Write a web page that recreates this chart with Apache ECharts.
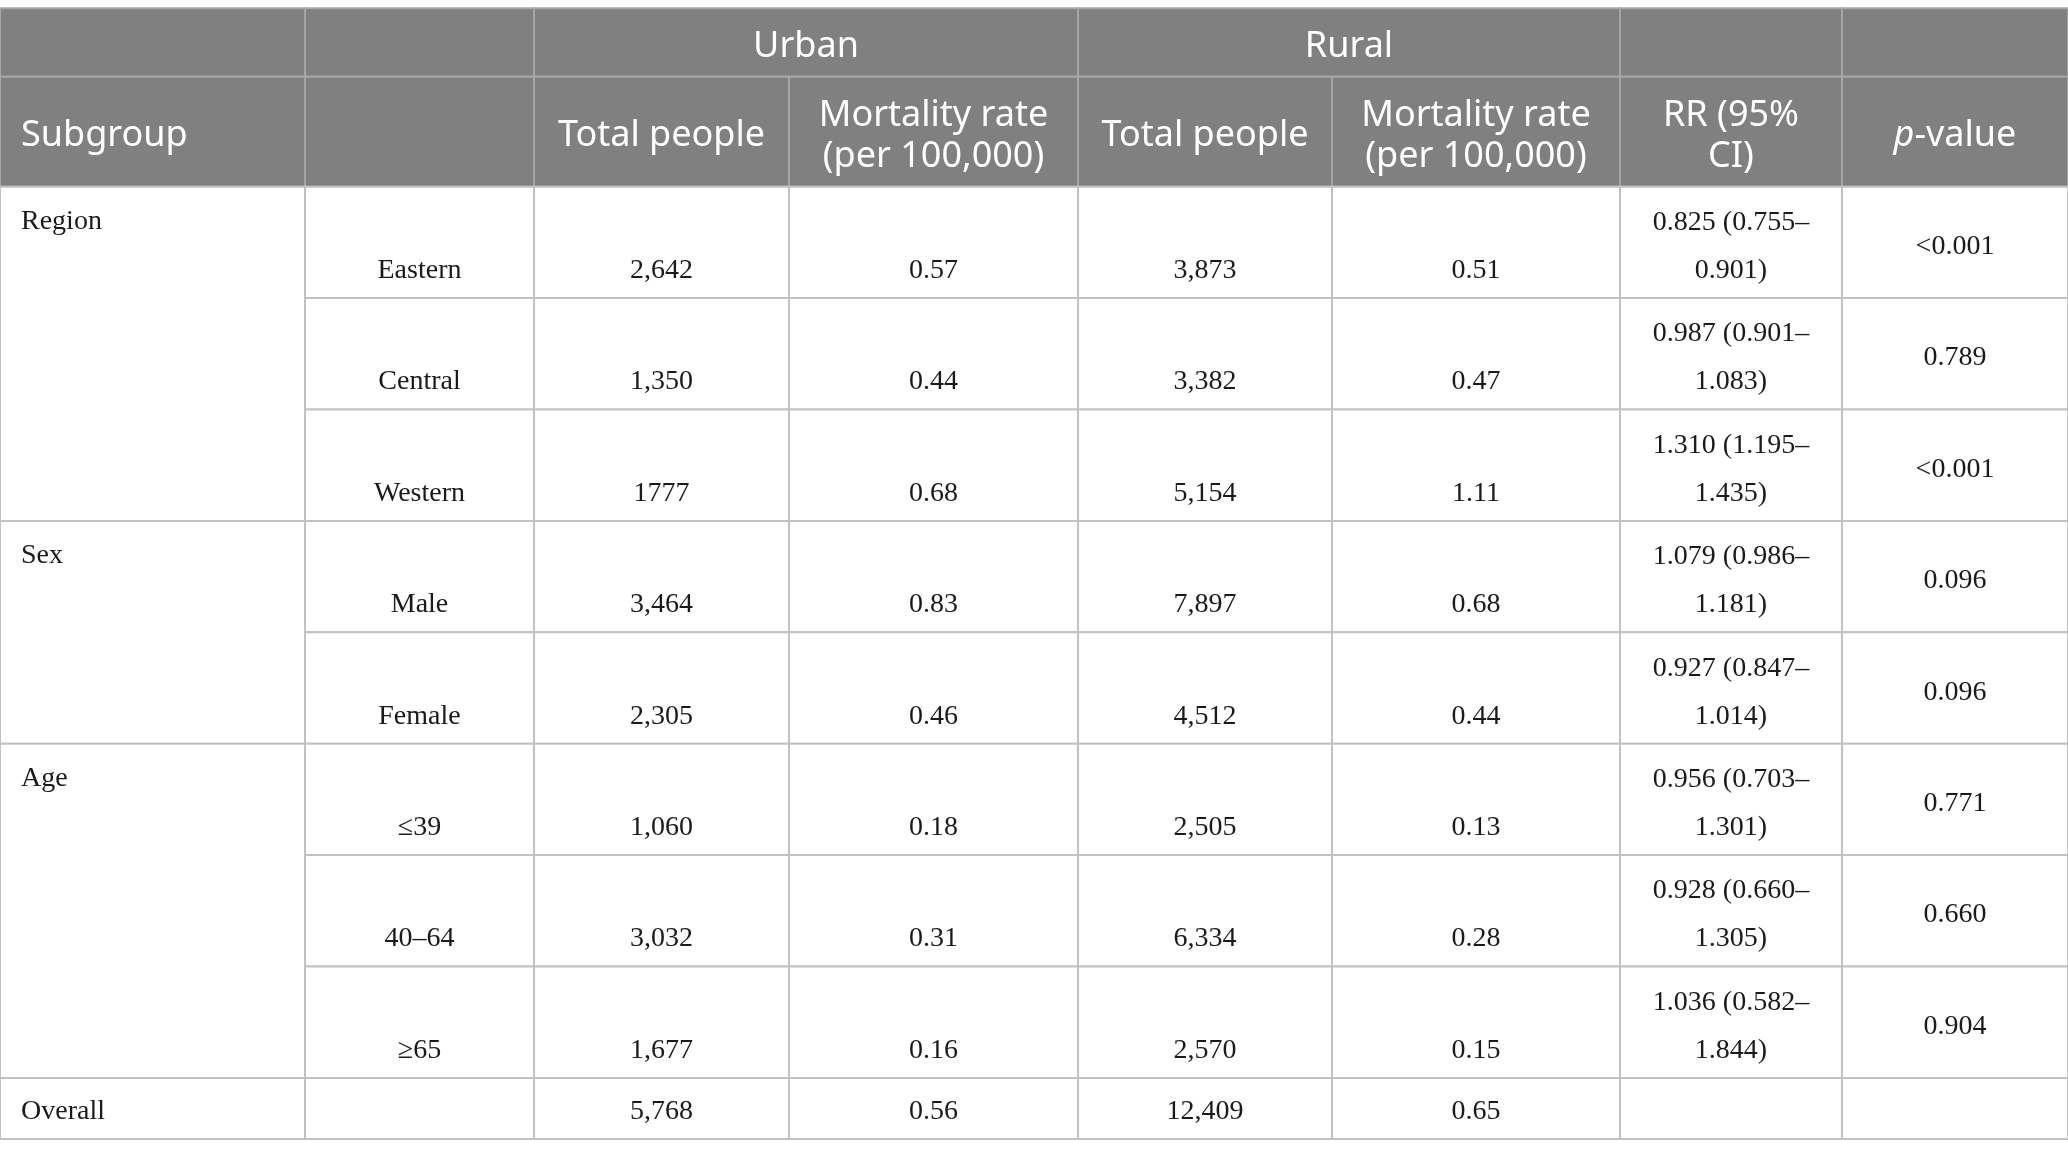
<!DOCTYPE html>
<html>
<head>
<meta charset="utf-8">
<script src="https://cdn.jsdelivr.net/npm/echarts@6/dist/echarts.min.js"></script>
<style>
    html, body { margin: 0; padding: 0; background: #fff; }
    #main { width: 2068px; height: 1158px; }
</style>
</head>
<body>
<div id="main"></div>
<script>
// ---- table content ----
const groups = ['Region', 'Sex', 'Age'];
const groupSizes = [3, 2, 3];
const levels = ['Eastern', 'Central', 'Western', 'Male', 'Female', '\u226439', '40\u201364', '\u226565'];
const urbanTotal = ['2,642', '1,350', '1777', '3,464', '2,305', '1,060', '3,032', '1,677'];
const urbanRate = ['0.57', '0.44', '0.68', '0.83', '0.46', '0.18', '0.31', '0.16'];
const ruralTotal = ['3,873', '3,382', '5,154', '7,897', '4,512', '2,505', '6,334', '2,570'];
const ruralRate = ['0.51', '0.47', '1.11', '0.68', '0.44', '0.13', '0.28', '0.15'];
const rrValue = ['0.825', '0.987', '1.310', '1.079', '0.927', '0.956', '0.928', '1.036'];
const ciLow = ['0.755', '0.901', '1.195', '0.986', '0.847', '0.703', '0.660', '0.582'];
const ciHigh = ['0.901', '1.083', '1.435', '1.181', '1.014', '1.301', '1.305', '1.844'];
const pValue = ['<0.001', '0.789', '<0.001', '0.096', '0.096', '0.771', '0.660', '0.904'];
const overallRow = ['Overall', '', '5,768', '0.56', '12,409', '0.65', '', ''];
const headTop = ['', '', 'Urban', 'Rural', '', ''];
const headSub = ['Subgroup', '', 'Total people', 'Mortality rate\n(per 100,000)',
    'Total people', 'Mortality rate\n(per 100,000)', 'RR (95%\nCI)', '{i|p}-value'];

// ---- layout ----
const W = 2068, H = 1158;
const colEdges = [0, 305, 534, 789, 1078, 1332, 1620, 1842, 2068];
const yHead0 = 8.3, yHead1 = 76.7, yBody = 186.7, rowH = 111.4, lastH = 61;
const HEAD_FONT = '"Noto Sans", "Open Sans", sans-serif';
const BODY_FONT = '"Liberation Serif", "DejaVu Serif", serif';

const cells = [];
function addCell(c0, c1, y0, y1, head, text, place) {
    cells.push({ x0: colEdges[c0], x1: colEdges[c1], y0: y0, y1: y1, head: head, text: text, place: place });
}

// header rows
addCell(0, 1, yHead0, yHead1, true, '', 'center');
addCell(1, 2, yHead0, yHead1, true, '', 'center');
addCell(2, 4, yHead0, yHead1, true, headTop[2], 'center');
addCell(4, 6, yHead0, yHead1, true, headTop[3], 'center');
addCell(6, 7, yHead0, yHead1, true, '', 'center');
addCell(7, 8, yHead0, yHead1, true, '', 'center');
headSub.forEach(function (t, c) {
    addCell(c, c + 1, yHead1, yBody, true, t, c === 0 ? 'left' : 'center');
});

// body rows
let r = 0;
groups.forEach(function (g, gi) {
    const top = yBody + r * rowH;
    addCell(0, 1, top, top + groupSizes[gi] * rowH, false, g, 'topleft');
    for (let k = 0; k < groupSizes[gi]; k++, r++) {
        const y0 = yBody + r * rowH, y1 = y0 + rowH;
        [levels[r], urbanTotal[r], urbanRate[r], ruralTotal[r], ruralRate[r]].forEach(function (t, c) {
            addCell(c + 1, c + 2, y0, y1, false, t, 'bottom');
        });
        addCell(6, 7, y0, y1, false, rrValue[r] + ' (' + ciLow[r] + '\u2013\n' + ciHigh[r] + ')', 'middle');
        addCell(7, 8, y0, y1, false, pValue[r], 'middle');
    }
});
const yLast = yBody + r * rowH;
overallRow.forEach(function (t, c) {
    addCell(c, c + 1, yLast, yLast + lastH, false, t, c === 0 ? 'left' : 'center');
});

function renderCell(params, api) {
    const c = cells[params.dataIndex];
    const p0 = api.coord([c.x0, c.y0]);
    const p1 = api.coord([c.x1, c.y1]);
    const children = [{
        type: 'rect',
        shape: { x: p0[0], y: p0[1], width: p1[0] - p0[0], height: p1[1] - p0[1] },
        style: {
            fill: c.head ? '#808080' : '#ffffff',
            stroke: c.head ? '#a6a6a6' : '#c2c2c2',
            lineWidth: 2
        }
    }];
    if (c.text) {
        let tx = (c.x0 + c.x1) / 2, ty = (c.y0 + c.y1) / 2 + (c.head ? 4.5 : 3), align = 'center';
        if (c.place === 'left' || c.place === 'topleft') {
            tx = c.x0 + 21;
            align = 'left';
        }
        if (c.place === 'topleft') ty = c.y0 + 35;
        if (c.place === 'bottom') ty = c.y0 + 84;
        if (c.place === 'middle') ty = c.y0 + 60;
        const pt = api.coord([tx, ty]);
        const size = c.head ? 36 : 28;
        const fam = c.head ? HEAD_FONT : BODY_FONT;
        const col = c.head ? '#ffffff' : '#1a1a1a';
        children.push({
            type: 'text',
            style: {
                x: pt[0], y: pt[1],
                text: c.text,
                fontFamily: fam,
                fontSize: size,
                fill: col,
                align: align,
                verticalAlign: 'middle',
                lineHeight: c.head ? 41 : 48,
                rich: {
                    i: { fontStyle: 'italic', fontFamily: fam, fontSize: size, fill: col, lineHeight: 41 }
                }
            }
        });
    }
    return { type: 'group', children: children };
}

const chart = echarts.init(document.getElementById('main'), null, { renderer: 'canvas' });
chart.setOption({
    animation: false,
    backgroundColor: '#ffffff',
    grid: { left: 0, right: 0, top: 0, bottom: 0 },
    xAxis: { type: 'value', min: 0, max: W, show: false },
    yAxis: { type: 'value', min: 0, max: H, inverse: true, show: false },
    series: [{
        type: 'custom',
        silent: true,
        clip: false,
        renderItem: renderCell,
        encode: { x: [0, 2], y: [1, 3] },
        data: cells.map(function (c) { return [c.x0, c.y0, c.x1, c.y1]; })
    }]
});
</script>
</body>
</html>
